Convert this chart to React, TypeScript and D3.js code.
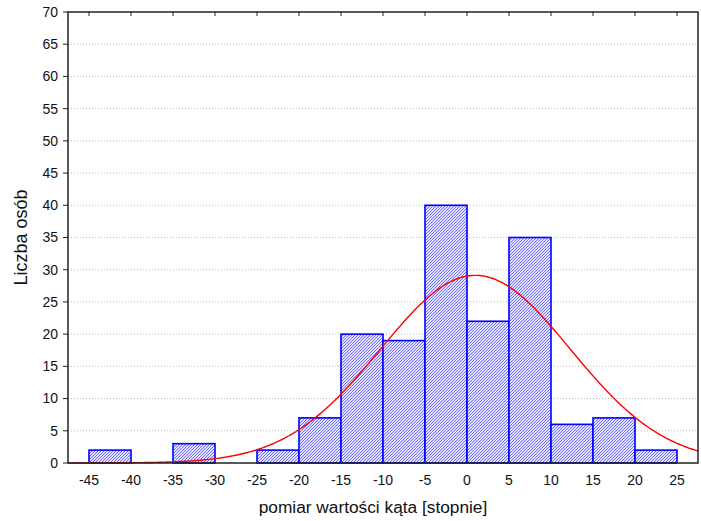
import React from "react";
import * as d3 from "d3";

const binStarts = [-45, -40, -35, -30, -25, -20, -15, -10, -5, 0, 5, 10, 15, 20];
const counts = [2, 0, 3, 0, 2, 7, 20, 19, 40, 22, 35, 6, 7, 2];
const xTicks = [-45, -40, -35, -30, -25, -20, -15, -10, -5, 0, 5, 10, 15, 20, 25];
const yTicks = [0, 5, 10, 15, 20, 25, 30, 35, 40, 45, 50, 55, 60, 65, 70];
const binWidth = 5;
const fitMean = 1.0;
const fitSd = 11.3;

const W = 701, H = 521;
const L = 68, T = 12, R = 698, B = 463;

export default function App() {
  const x = d3.scaleLinear().domain([-47.5, 27.5]).range([L, R]);
  const y = d3.scaleLinear().domain([0, 70]).range([B, T]);
  const N = d3.sum(counts);
  const samples = d3.range(0, 301).map((i) => -47.5 + (75 * i) / 300);
  const density = (v: number) =>
    (N * binWidth) / (fitSd * Math.sqrt(2 * Math.PI)) * Math.exp(-((v - fitMean) ** 2) / (2 * fitSd * fitSd));
  const line = d3
    .line<number>()
    .x((v) => x(v))
    .y((v) => y(density(v)));
  const font = "Liberation Sans, Arial, sans-serif";
  return (
    <div style={{ position: "absolute", left: 0, top: 0 }}>
      <svg width={W} height={H} style={{ display: "block" }} fontFamily={font}>
        <defs>
          <pattern id="hatch" width="3" height="3" patternUnits="userSpaceOnUse">
            <rect width="3" height="3" fill="#e2e2ff" />
            <path d="M-1,1 L1,-1 M0,3 L3,0 M2,4 L4,2" stroke="#5050ff" strokeWidth="0.8" />
          </pattern>
        </defs>
        <rect width={W} height={H} fill="#fff" />
        {yTicks.filter((t) => t > 0 && t < 70).map((t) => (
          <line key={"g" + t} x1={L} x2={R} y1={y(t)} y2={y(t)} stroke="#bdbdbd" strokeDasharray="1,2" strokeWidth={1} />
        ))}
        {binStarts.map((s, i) =>
          counts[i] > 0 ? (
            <rect
              key={"b" + s}
              x={x(s)}
              y={y(counts[i])}
              width={x(s + binWidth) - x(s)}
              height={y(0) - y(counts[i])}
              fill="url(#hatch)"
              stroke="#0000ff"
              strokeWidth={1.6}
            />
          ) : null
        )}
        <path d={line(samples) || ""} fill="none" stroke="#ff0000" strokeWidth={1.4} />
        <rect x={L} y={T} width={R - L} height={B - T} fill="none" stroke="#222" strokeWidth={1.5} />
        {yTicks.map((t) => (
          <g key={"y" + t}>
            <line x1={L - 5} x2={L} y1={y(t)} y2={y(t)} stroke="#222" strokeWidth={1} />
            <text x={58} y={y(t)} dy="0.35em" textAnchor="end" fontSize={14} fill="#111">
              {t}
            </text>
          </g>
        ))}
        {xTicks.map((t) => (
          <g key={"x" + t}>
            <line x1={x(t)} x2={x(t)} y1={T} y2={T + 4} stroke="#222" strokeWidth={1} />
            <text x={x(t)} y={485} textAnchor="middle" fontSize={14} fill="#111">
              {t}
            </text>
          </g>
        ))}
        <text x={373} y={513} textAnchor="middle" fontSize={17.3} fill="#111">
          pomiar wartości kąta [stopnie]
        </text>
        <text transform={`translate(27,237.5) rotate(-90)`} textAnchor="middle" fontSize={18} fill="#111">
          Liczba osób
        </text>
      </svg>
    </div>
  );
}
